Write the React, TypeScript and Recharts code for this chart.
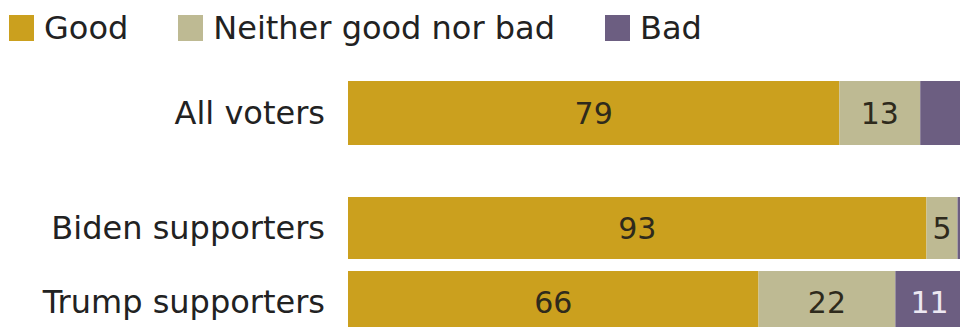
import { BarChart, Bar, XAxis, YAxis, LabelList } from 'recharts'

// a figura original vai até a borda da janela
document.body.style.margin = '0'

// Categorias e séries (porcentagens)
const SERIES = ['Good', 'Neither good nor bad', 'Bad']
const CORES = ['#CBA01E', '#BEBA93', '#6C5E81']
const COR_ROTULO = ['#2e2a1c', '#2e2a1c', '#ece8f2']

const GRUPO_TOPO = ['All voters']
const GRUPO_BAIXO = ['Biden supporters', 'Trump supporters']

const GOOD_TOPO = [79]
const NEITHER_TOPO = [13]
const BAD_TOPO = [7]

const GOOD_BAIXO = [93, 66]
const NEITHER_BAIXO = [5, 22]
const BAD_BAIXO = [1, 11]

const montar = (grupos: string[], g: number[], n: number[], b: number[]) =>
  grupos.map((grupo, i) => ({ grupo, good: g[i], neither: n[i], bad: b[i] }))

const dadosTopo = montar(GRUPO_TOPO, GOOD_TOPO, NEITHER_TOPO, BAD_TOPO)
const dadosBaixo = montar(GRUPO_BAIXO, GOOD_BAIXO, NEITHER_BAIXO, BAD_BAIXO)

const FONTE = '"DejaVu Sans", sans-serif'
const CHAVES = ['good', 'neither', 'bad']

function Barras({ dados, altura, barra }: { dados: any[]; altura: number; barra: number }) {
  return (
    <BarChart
      width={962}
      height={altura}
      data={dados}
      layout="vertical"
      margin={{ top: 0, right: 0, bottom: 0, left: 0 }}
      barSize={barra}
    >
      <XAxis type="number" domain={[0, 100]} hide />
      <YAxis
        type="category"
        dataKey="grupo"
        width={340}
        axisLine={false}
        tickLine={false}
        tickSize={0}
        tickMargin={23}
        tick={{ fill: '#222', fontSize: 32, fontFamily: FONTE }}
      />
      {CHAVES.map((k, i) => (
        <Bar key={k} dataKey={k} stackId="a" fill={CORES[i]} isAnimationActive={false}>
          <LabelList
            dataKey={k}
            position="center"
            fill={COR_ROTULO[i]}
            fontSize={30}
            fontFamily={FONTE}
            // rótulos pequenos da barra "Bad" ficam de fora
            formatter={(v: any) => (k === 'bad' && v < 10 ? '' : v)}
          />
        </Bar>
      ))}
    </BarChart>
  )
}

export default function App() {
  return (
    <div style={{
      position: 'relative', width: 960, height: 327,
      overflow: 'hidden', background: '#fff', fontFamily: FONTE,
    }}>
      {/* Legenda */}
      <div style={{ position: 'absolute', top: 12, left: 9, display: 'flex', alignItems: 'center', height: 32 }}>
        {SERIES.map((s, i) => (
          <div key={s} style={{ display: 'flex', alignItems: 'center', marginRight: 50 }}>
            <span style={{ width: 25, height: 26, background: CORES[i], display: 'inline-block', marginRight: 10 }} />
            <span style={{ fontSize: 32, color: '#222', lineHeight: '32px', whiteSpace: 'nowrap' }}>{s}</span>
          </div>
        ))}
      </div>
      <div style={{ position: 'absolute', top: 48, left: 8 }}>
        <Barras dados={dadosTopo} altura={130} barra={64} />
      </div>
      <div style={{ position: 'absolute', top: 191, left: 8 }}>
        <Barras dados={dadosBaixo} altura={148} barra={62} />
      </div>
    </div>
  )
}
